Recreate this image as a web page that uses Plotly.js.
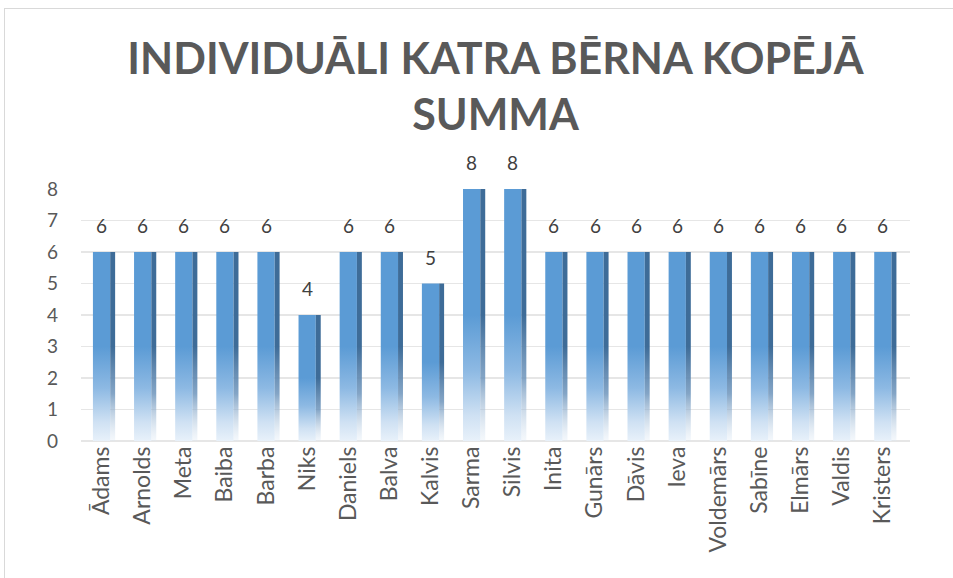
<!DOCTYPE html>
<html>
<head>
<meta charset="utf-8">
<script src="https://cdn.plot.ly/plotly-3.0.1.min.js"></script>
<style>
  html, body { margin: 0; padding: 0; background: #ffffff; overflow: hidden; }
  #chart { width: 953px; height: 578px; position: absolute; left: 0; top: 0; }
  #frame { position: absolute; left: 4px; top: 8px; width: 2000px; height: 2000px;
           border: 1px solid #D9D9D9; pointer-events: none; }
</style>
</head>
<body>
<div id="chart"></div>
<div id="frame"></div>
<script>
const names = ["Ādams", "Arnolds", "Meta", "Baiba", "Barba", "Niks", "Daniels", "Balva", "Kalvis", "Sarma",
               "Silvis", "Inita", "Gunārs", "Dāvis", "Ieva", "Voldemārs", "Sabīne", "Elmārs", "Valdis", "Kristers"];
const totals = [6, 6, 6, 6, 6, 4, 6, 6, 5, 8, 8, 6, 6, 6, 6, 6, 6, 6, 6, 6];
const yTicks = [0, 1, 2, 3, 4, 5, 6, 7, 8];
const titleText = "INDIVIDUĀLI KATRA BĒRNA KOPĒJĀ<br>SUMMA";

const FONT = "Lato, 'Open Sans', sans-serif";

const front = {
  type: "bar", x: names, y: totals,
  width: 0.42, offset: -0.21,
  marker: { color: "#5B9BD5", line: { width: 0 } },
  hoverinfo: "x+y", showlegend: false
};
const side = {
  type: "bar", x: names, y: totals,
  width: 0.12, offset: 0.21,
  marker: { color: "#3E6C98", line: { width: 0 } },
  hoverinfo: "skip", showlegend: false
};

const annotations = names.map((n, i) => ({
  x: n, y: totals[i], xref: "x", yref: "y",
  text: String(totals[i]), showarrow: false,
  yanchor: "bottom", yshift: 13,
  font: { family: FONT, size: 19, color: "#404040" }
}));

const layout = {
  width: 953, height: 578,
  margin: { l: 81, r: 43, t: 189, b: 137 },
  paper_bgcolor: "rgba(0,0,0,0)", plot_bgcolor: "rgba(0,0,0,0)",
  barmode: "overlay",
  title: {
    text: titleText, x: 0.5, xref: "paper", xanchor: "center",
    y: 0.872, yref: "container", yanchor: "top",
    font: { family: FONT, size: 43, color: "#595959", weight: 700 }
  },
  xaxis: {
    type: "category", range: [-0.5, 19.66],
    tickangle: -90, showgrid: false, zeroline: false, showline: false,
    ticks: "", tickfont: { family: FONT, size: 23, color: "#595959" },
    fixedrange: true
  },
  yaxis: {
    range: [0, 8], tickvals: yTicks, ticktext: yTicks.map(String),
    showgrid: true, gridcolor: "#E6E6E6", gridwidth: 1.5,
    zeroline: true, zerolinecolor: "#E6E6E6", zerolinewidth: 1.5,
    showline: false, ticks: "", ticklabelstandoff: 22,
    tickfont: { family: FONT, size: 19, color: "#595959" },
    fixedrange: true
  },
  annotations: annotations,
  font: { family: FONT }
};

function addGradients(gd) {
  const svg = gd.querySelector("svg.main-svg");
  const ns = "http://www.w3.org/2000/svg";
  let defs = svg.querySelector("defs");
  if (!defs) { defs = document.createElementNS(ns, "defs"); svg.insertBefore(defs, svg.firstChild); }
  function grad(id, stops) {
    const g = document.createElementNS(ns, "linearGradient");
    g.setAttribute("id", id);
    g.setAttribute("x1", "0"); g.setAttribute("y1", "0");
    g.setAttribute("x2", "0"); g.setAttribute("y2", "1");
    stops.forEach(s => {
      const st = document.createElementNS(ns, "stop");
      st.setAttribute("offset", s[0]);
      st.setAttribute("stop-color", s[1]);
      st.setAttribute("stop-opacity", s[2] === undefined ? 1 : s[2]);
      g.appendChild(st);
    });
    defs.appendChild(g);
  }
  grad("gFront", [[0, "#5B9BD5"], [0.5, "#5B9BD5"], [0.72, "#8DB9E3"], [0.9, "#CFE1F3"], [1, "#E8F1FA"]]);
  grad("gSide", [[0, "#3E6C98"], [0.5, "#3E6C98"], [0.75, "#6E95BC", 0.85], [1, "#DCE8F4", 0.3]]);
  const traces = gd.querySelectorAll(".barlayer .trace");
  const ids = ["gFront", "gSide"];
  traces.forEach((t, i) => {
    t.querySelectorAll("path").forEach(p => { p.style.fill = "url(#" + ids[i] + ")"; });
  });
}

Plotly.newPlot("chart", [front, side], layout, { displayModeBar: false, staticPlot: true })
  .then(addGradients);
</script>
</body>
</html>
